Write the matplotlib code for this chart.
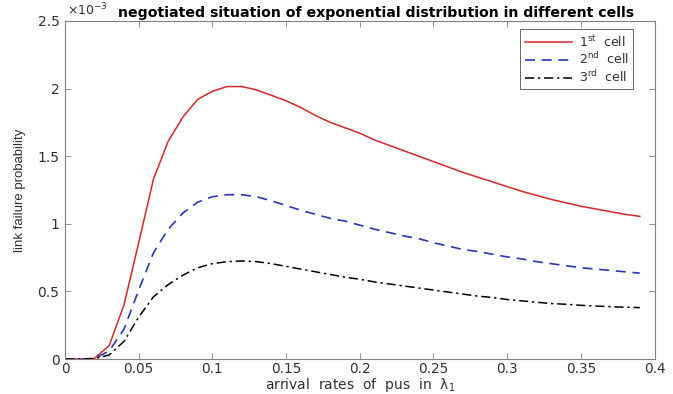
import matplotlib
matplotlib.use("Agg")
import matplotlib.pyplot as plt

plt.rcParams['font.family'] = ['DejaVu Sans']
plt.rcParams['mathtext.fontset'] = 'dejavusans'

# arrival rate λ1
x = [0.00, 0.01, 0.02, 0.03, 0.04, 0.05, 0.06, 0.07, 0.08, 0.09,
     0.10, 0.11, 0.12, 0.13, 0.14, 0.15, 0.16, 0.17, 0.18, 0.19,
     0.20, 0.21, 0.22, 0.23, 0.24, 0.25, 0.26, 0.27, 0.28, 0.29,
     0.30, 0.31, 0.32, 0.33, 0.34, 0.35, 0.36, 0.37, 0.38, 0.39]

# link failure probability (x 1e-3)
cell1 = [0.0, 0.0, 0.005, 0.10, 0.40, 0.86, 1.33, 1.61, 1.79, 1.92,
         1.98, 2.015, 2.015, 1.99, 1.95, 1.91, 1.86, 1.80, 1.75, 1.71,
         1.67, 1.62, 1.58, 1.54, 1.50, 1.46, 1.42, 1.38, 1.345, 1.31,
         1.275, 1.24, 1.21, 1.18, 1.155, 1.13, 1.11, 1.09, 1.07, 1.055]
cell2 = [0.0, 0.0, 0.003, 0.06, 0.22, 0.51, 0.785, 0.96, 1.08, 1.16,
         1.20, 1.215, 1.215, 1.20, 1.17, 1.135, 1.10, 1.07, 1.04, 1.02,
         0.99, 0.96, 0.935, 0.91, 0.89, 0.86, 0.835, 0.81, 0.795, 0.775,
         0.755, 0.74, 0.72, 0.705, 0.69, 0.675, 0.665, 0.655, 0.645, 0.635]
cell3 = [0.0, 0.0, 0.002, 0.03, 0.13, 0.31, 0.46, 0.55, 0.62, 0.675,
         0.705, 0.72, 0.725, 0.72, 0.705, 0.685, 0.665, 0.645, 0.625, 0.605,
         0.59, 0.57, 0.555, 0.54, 0.525, 0.51, 0.495, 0.48, 0.465, 0.455,
         0.44, 0.43, 0.42, 0.41, 0.405, 0.397, 0.392, 0.387, 0.383, 0.38]

labels = [r'1$^{\mathrm{st}}$  cell', r'2$^{\mathrm{nd}}$  cell', r'3$^{\mathrm{rd}}$  cell']
xticks = [0, 0.05, 0.1, 0.15, 0.2, 0.25, 0.3, 0.35, 0.4]
xticklabels = ['0', '0.05', '0.1', '0.15', '0.2', '0.25', '0.3', '0.35', '0.4']
yticks = [0, 0.5, 1, 1.5, 2, 2.5]
yticklabels = ['0', '0.5', '1', '1.5', '2', '2.5']

fig = plt.figure(figsize=(6.73, 3.94), dpi=100)
ax = fig.add_axes([0.0966, 0.0888, 0.876, 0.858])

ax.plot(x, cell1, color='#d62728', lw=1.1, label=labels[0])
ax.plot(x, cell2, color='#2b35b8', lw=1.2, ls=(0, (6, 4)), label=labels[1])
ax.plot(x, cell3, color='black', lw=1.1, ls=(0, (6, 2.5, 1.5, 2.5)), label=labels[2])

ax.set_xlim(0, 0.4)
ax.set_ylim(0, 2.5)
ax.set_xticks(xticks)
ax.set_xticklabels(xticklabels)
ax.set_yticks(yticks)
ax.set_yticklabels(yticklabels)

tc = '#303030'
ax.tick_params(direction='in', length=4, width=0.6, colors='#808080',
               labelcolor=tc, labelsize=10, top=True, right=True, pad=4)
ax.tick_params(axis='x', labelsize=9.8, pad=2.5)
for s in ax.spines.values():
    s.set_color('#808080')
    s.set_linewidth(0.8)

ax.set_xlabel('arrival  rates  of  pus  in  \u03bb$_1$', fontsize=10, color=tc, labelpad=0)
ax.set_ylabel('link failure probability', fontsize=9.5, color=tc, labelpad=8,
              family='Liberation Sans')
ax.set_title('negotiated situation of exponential distribution in different cells',
             fontsize=10.2, fontweight='bold', color='black', pad=3, x=0.528)
ax.text(0.004, 1.008, r'$\times$10$^{-3}$', transform=ax.transAxes, fontsize=9,
        color=tc, ha='left', va='bottom')

leg = ax.legend(loc='upper right', bbox_to_anchor=(0.963, 0.975), fontsize=9,
                frameon=True, fancybox=False, handlelength=3.8, borderpad=0.35,
                labelspacing=0.15, handletextpad=0.5, borderaxespad=0)
leg.get_frame().set_edgecolor('#404040')
leg.get_frame().set_linewidth(0.7)
for t in leg.get_texts():
    t.set_color(tc)

fig.savefig('out.png', dpi=100)
